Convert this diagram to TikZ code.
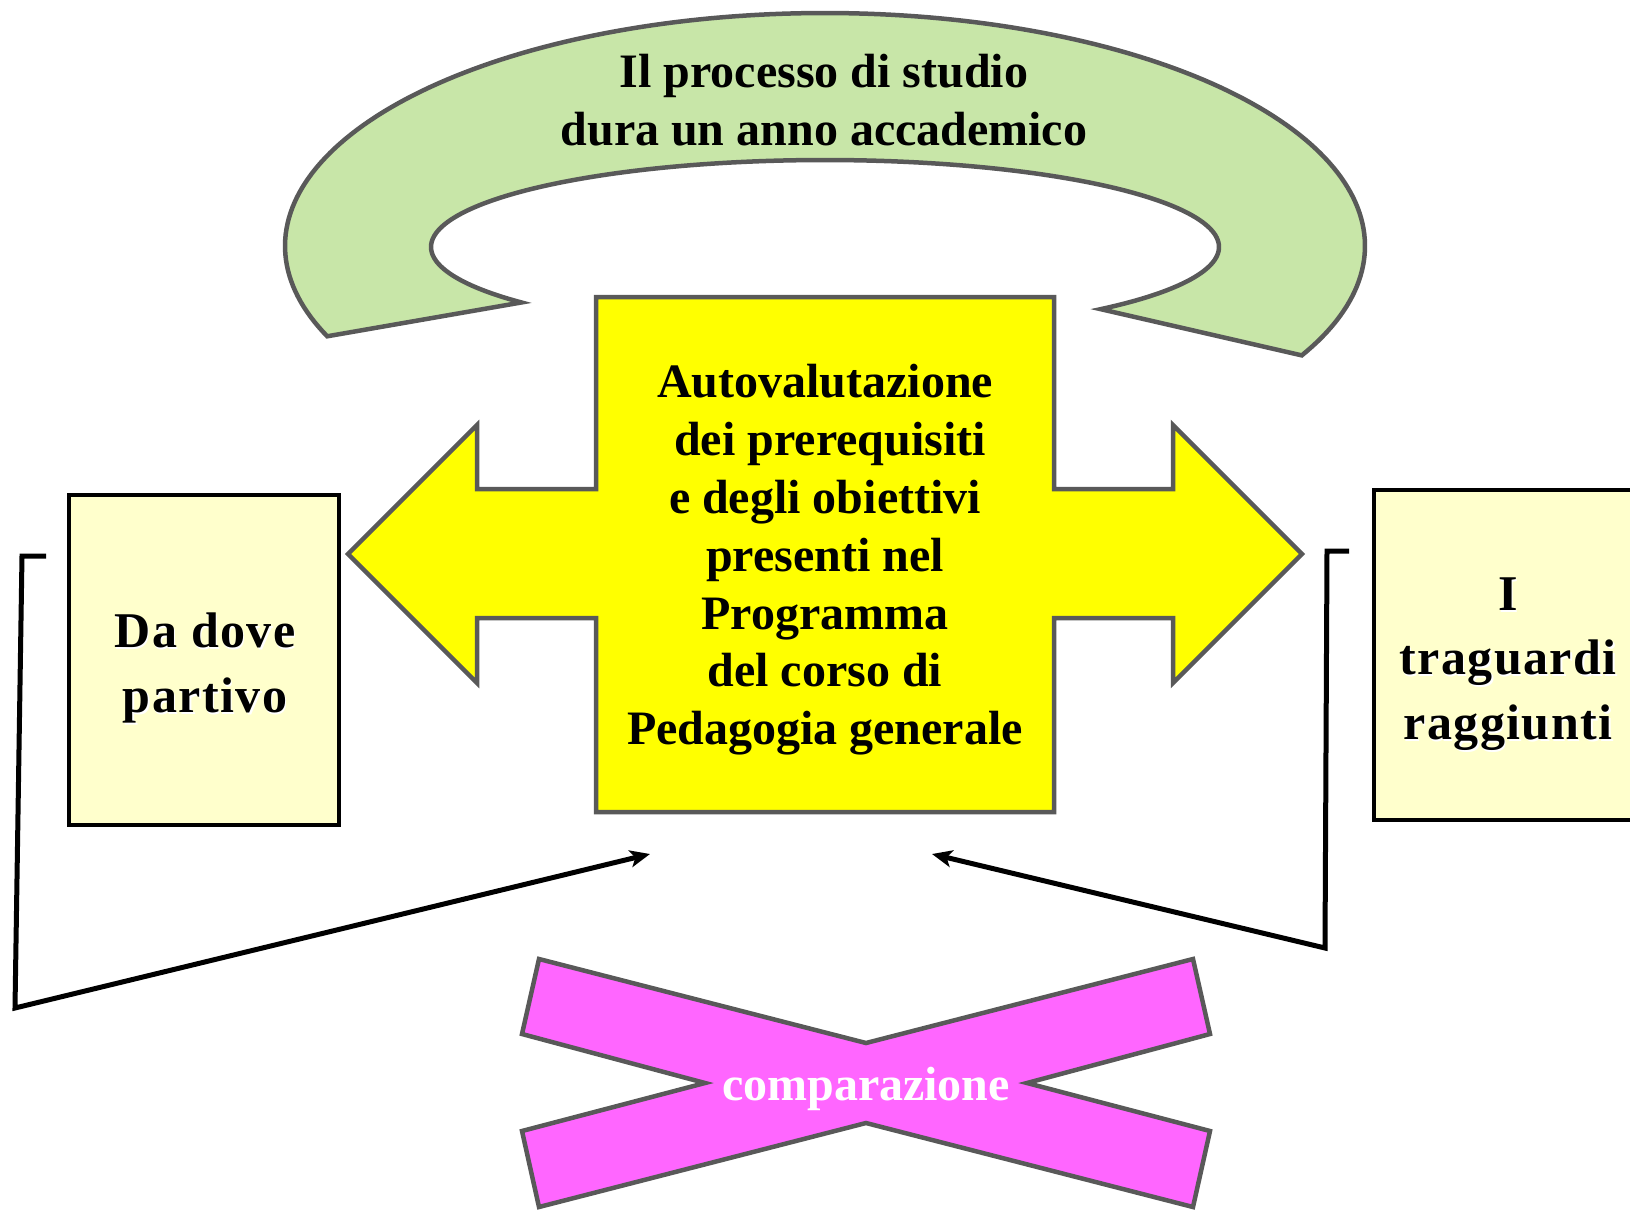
\documentclass[tikz,border=0pt]{standalone}
\usepackage{fontspec}
\setmainfont{Liberation Serif}
\newfontfamily\spacedserif[LetterSpace=3]{Liberation Serif}
\usetikzlibrary{arrows.meta}
\definecolor{edgegray}{RGB}{89,89,89}
\definecolor{bandgreen}{RGB}{200,230,168}
\definecolor{paleyellow}{RGB}{255,255,204}
\definecolor{boxyellow}{RGB}{255,255,0}
\definecolor{xpink}{RGB}{255,102,255}
\tikzset{
  outlined/.style={draw=edgegray, line width=4.5pt, line join=miter},
  sidebox/.style={draw=black, line width=4.5pt, fill=paleyellow, inner sep=0pt},
  bigtext/.style={font=\fontsize{48}{57.8}\selectfont\bfseries, align=center, inner sep=0pt},
  sidetext/.style={font=\spacedserif\fontsize{50}{64.5}\selectfont\bfseries, align=center, inner sep=0pt},
  link/.style={draw=black, line width=5pt, line join=miter, -{Stealth[length=20pt,width=17pt,inset=5pt]}},
}
\begin{document}
\begin{tikzpicture}[x=1pt,y=-1pt]
\useasboundingbox (0,0) rectangle (1630,1210);
\clip (0,0) rectangle (1630,1210);

% green curved band
\filldraw[outlined, fill=bandgreen]
  plot[domain=28:-202.8, samples=180] ({825+540*cos(\x)},{246+233*sin(\x)})
  -- plot[domain=-219.6:45.6, samples=180] ({825+394*cos(\x)},{247+87*sin(\x)})
  -- cycle;
\node[bigtext] (band) at (824,100) {Il processo di studio\\dura un anno accademico};

% yellow double arrow box
\filldraw[outlined, fill=boxyellow]
  (596,297) -- (1054,297) -- (1054,489) -- (1173,489) -- (1173,425) -- (1302,554)
  -- (1173,683) -- (1173,618) -- (1054,618) -- (1054,812) -- (596,812) -- (596,618)
  -- (477,618) -- (477,683) -- (348,554) -- (477,425) -- (477,489) -- (596,489) -- cycle;
\node[bigtext] (ctext) at (825,560) {Autovalutazione\\\hspace*{10pt}dei prerequisiti\\e degli obiettivi\\presenti nel\\Programma\\del corso di\\Pedagogia generale};

% side boxes
\node[sidebox, minimum width=270pt, minimum height=330pt] (lbox) at (204,660) {};
\node[sidetext, white] (ltxtshadow) at (206.5,670) {Da dove\\partivo};
\node[sidetext] (ltxt) at (205,668) {Da dove\\partivo};

\node[sidebox, minimum width=268pt, minimum height=330pt] (rbox) at (1508,655) {};
\node[sidetext, white] (rtxtshadow) at (1509.5,666) {I\\traguardi\\raggiunti};
\node[sidetext] (rtxt) at (1508,664) {I\\traguardi\\raggiunti};

% pink X
\filldraw[outlined, fill=xpink]
  (539,959) -- (866,1043) -- (1193,959) -- (1210,1034) -- (1027,1083) -- (1210,1131)
  -- (1193,1207) -- (866,1123) -- (539,1207) -- (522,1131) -- (705,1083) -- (522,1034) -- cycle;
\node[font=\fontsize{48}{57.8}\selectfont\bfseries, text=white, anchor=base, inner sep=0pt] (cmp) at (866,1100) {comparazione};

% connectors
\coordinate (lA) at (46,556);
\coordinate (lB) at (22,556);
\coordinate (lC) at (15,1008);
\coordinate (lT) at (650,854);
\draw[link] (lA) -- (lB) -- (lC) -- (lT);
\coordinate (rA) at (1349,551);
\coordinate (rB) at (1327,551);
\coordinate (rC) at (1325,948);
\coordinate (rT) at (932,854);
\draw[link] (rA) -- (rB) -- (rC) -- (rT);
\end{tikzpicture}
\end{document}
